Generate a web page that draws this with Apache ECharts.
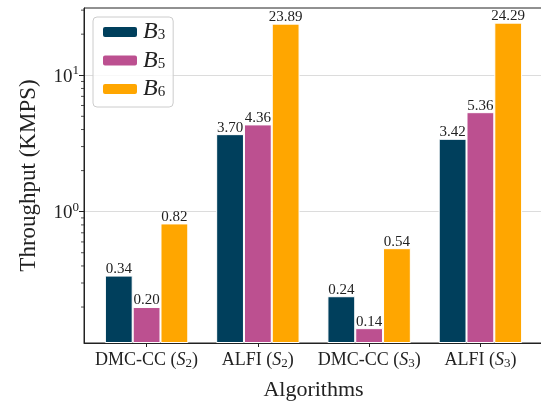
<!DOCTYPE html>
<html>
<head>
<meta charset="utf-8">
<script src="https://cdn.jsdelivr.net/npm/echarts@6/dist/echarts.min.js"></script>
<style>
  html, body { margin: 0; padding: 0; background: #fff; }
  #chart { width: 541px; height: 401px; }
</style>
</head>
<body>
<div id="chart"></div>
<script>
(function() {
  'use strict';
  var echarts = window.echarts;

  // data
  var categories = ['DMC-CC (S2)', 'ALFI (S2)', 'DMC-CC (S3)', 'ALFI (S3)'];
  var seriesNames = ['B3', 'B5', 'B6'];
  var b3Values = [0.34, 3.70, 0.24, 3.42];
  var b5Values = [0.20, 4.36, 0.14, 5.36];
  var b6Values = [0.82, 23.89, 0.54, 24.29];
  var majorTicks = [1, 10];
  var minorTicks = [0.2, 0.3, 0.4, 0.5, 0.6, 0.7, 0.8, 0.9, 2, 3, 4, 5, 6, 7, 8, 9, 20, 30];
  var colors = ['#003f5c', '#bc5090', '#ffa600'];

  var FONT = '"Liberation Serif", "DejaVu Serif", serif';
  var X_MIN = -0.5625, X_MAX = 3.5625;
  var Y_MIN = 0.109, Y_MAX = 31.1;

  // 把 (S2) 之类写成带下标的富文本
  function catLabel(v) {
    var name = categories[Math.round(v)];
    if (!name) return '';
    return name.replace(/\((S)(\d)\)/, '({it|$1}{sub|$2})');
  }

  function toPairs(vals) {
    return vals.map(function(v, i) { return [i, v]; });
  }

  var barList = [b3Values, b5Values, b6Values];

  var series = barList.map(function(vals, k) {
    return {
      name: seriesNames[k],
      type: 'bar',
      data: toPairs(vals),
      barWidth: 27.8,
      barGap: '0%',
      itemStyle: { color: colors[k], borderColor: '#fff', borderWidth: 1 },
      label: {
        show: true,
        position: 'top',
        distance: 0,
        fontFamily: FONT,
        fontSize: 15,
        lineHeight: 13,
        color: '#222',
        formatter: function(p) { return p.value[1].toFixed(2); }
      }
    };
  });

  // 次刻度（matplotlib 风格 2..9）
  series.push({
    type: 'custom',
    silent: true,
    clip: false,
    z: 10,
    data: minorTicks.map(function(v) { return [X_MIN, v]; }),
    renderItem: function(params, api) {
      var p = api.coord([X_MIN, api.value(1)]);
      return {
        type: 'line',
        shape: { x1: p[0] - 3, y1: p[1], x2: p[0], y2: p[1] },
        style: { stroke: '#222', lineWidth: 0.8 }
      };
    }
  });

  var myChart = echarts.init(document.getElementById('chart'));

  var option = {
    animation: false,
    color: colors,
    grid: {
      left: 84, top: 8, width: 459, height: 335,
      outerBoundsMode: 'none',
      containLabel: false,
      show: true, borderColor: '#222', borderWidth: 1
    },
    legend: {
      data: seriesNames,
      orient: 'vertical',
      left: 93,
      top: 17,
      padding: [3, 8, 6, 8],
      itemWidth: 36,
      itemHeight: 12,
      itemGap: 4.5,
      itemTextGap: 16,
      borderColor: '#ccc',
      borderWidth: 1,
      borderRadius: 4,
      backgroundColor: 'rgba(255,255,255,0.8)',
      formatter: function(n) { return '{it|B}{sub|' + n.slice(1) + '}'; },
      textStyle: {
        fontFamily: FONT,
        rich: {
          it: { fontFamily: FONT, fontStyle: 'italic', fontSize: 24, color: '#222', lineHeight: 22, verticalAlign: 'middle' },
          sub: { fontFamily: FONT, fontSize: 15, color: '#222', lineHeight: 22, verticalAlign: 'bottom' }
        }
      }
    },
    xAxis: {
      type: 'value',
      min: X_MIN,
      max: X_MAX,
      name: 'Algorithms',
      nameLocation: 'middle',
      nameGap: 36,
      nameTextStyle: { fontFamily: FONT, fontSize: 22, color: '#222' },
      axisLine: { onZero: false, lineStyle: { color: '#222', width: 1 } },
      axisTick: { show: true, length: 4, customValues: [0, 1, 2, 3], lineStyle: { color: '#222' } },
      splitLine: { show: false },
      axisLabel: {
        customValues: [0, 1, 2, 3],
        margin: 7,
        formatter: catLabel,
        fontFamily: FONT,
        fontSize: 18,
        color: '#222',
        rich: {
          it: { fontFamily: FONT, fontStyle: 'italic', fontSize: 18, color: '#222', lineHeight: 20, verticalAlign: 'middle' },
          sub: { fontFamily: FONT, fontSize: 13, color: '#222', lineHeight: 20, verticalAlign: 'bottom' }
        }
      }
    },
    yAxis: {
      type: 'log',
      logBase: 10,
      min: Y_MIN,
      max: Y_MAX,
      startValue: Y_MIN,
      name: 'Throughput (KMPS)',
      nameLocation: 'middle',
      nameGap: 44,
      nameTextStyle: { fontFamily: FONT, fontSize: 23, color: '#222' },
      axisLine: { show: true, onZero: false, lineStyle: { color: '#222', width: 1 } },
      axisTick: { show: true, length: 5, customValues: majorTicks, lineStyle: { color: '#222' } },
      splitLine: { show: true, lineStyle: { color: '#dcdcdc', width: 1 } },
      axisLabel: {
        customValues: majorTicks,
        margin: 5,
        fontFamily: FONT,
        fontSize: 19,
        color: '#222',
        formatter: function(v) {
          var e = Math.round(Math.log(v) / Math.LN10);
          if (Math.abs(Math.pow(10, e) - v) > 1e-6) return '';
          return '{b|10}{sup|' + e + '}';
        },
        rich: {
          b: { fontFamily: FONT, fontSize: 19, color: '#222', lineHeight: 22, verticalAlign: 'bottom' },
          sup: { fontFamily: FONT, fontSize: 13, color: '#222', lineHeight: 22, verticalAlign: 'top' }
        }
      }
    },
    series: series
  };

  myChart.setOption(option);
}());
</script>
</body>
</html>
